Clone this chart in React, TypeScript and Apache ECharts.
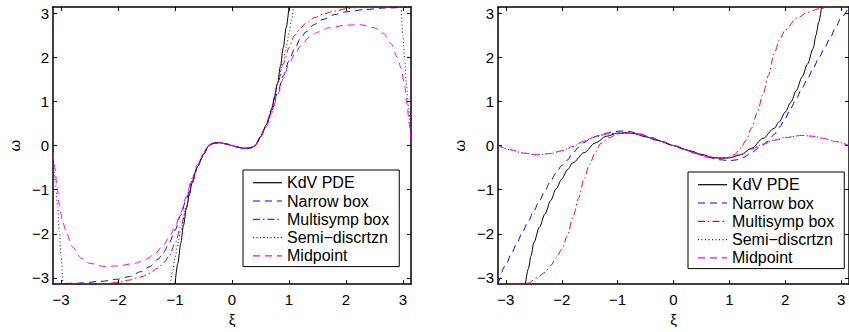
import React, { useEffect, useRef } from "react";
import * as echarts from "echarts";

const PI = Math.PI;
const tickValues = [-3, -2, -1, 0, 1, 2, 3];
const names = ["KdV PDE", "Narrow box", "Multisymp box", "Semi\u2212discrtzn", "Midpoint"];

// ---------- left panel ----------
const L_kdv_xi = [-1.0, -0.95, -0.9, -0.85, -0.8, -0.75, -0.7, -0.65, -0.6, -0.55, -0.5, -0.45, -0.4, -0.35, -0.28, -0.2, -0.1, 0, 0.1, 0.2, 0.28, 0.35, 0.4, 0.45, 0.5, 0.55, 0.6, 0.65, 0.7, 0.75, 0.8, 0.85, 0.9, 0.95, 1.0];
const L_kdv_w = [-3.14, -2.67, -2.22, -1.8, -1.42, -1.12, -0.85, -0.62, -0.47, -0.33, -0.2, -0.07, 0.01, 0.05, 0.067, 0.062, 0.035, 0, -0.035, -0.062, -0.067, -0.05, -0.01, 0.07, 0.2, 0.33, 0.47, 0.62, 0.85, 1.12, 1.42, 1.8, 2.22, 2.67, 3.14];

const L_nar_xi = [-3.14, -2.7, -2.3, -2.0, -1.8, -1.6, -1.45, -1.3, -1.2, -1.1, -1.0, -0.9, -0.8, -0.7, -0.6, -0.5, -0.4, -0.3, -0.2, -0.1, 0, 0.1, 0.2, 0.3, 0.4, 0.5, 0.6, 0.7, 0.8, 0.9, 1.0, 1.1, 1.2, 1.3, 1.45, 1.6, 1.8, 2.0, 2.3, 2.7, 3.14];
const L_nar_w = [-3.14, -3.12, -3.08, -3.03, -2.97, -2.86, -2.75, -2.58, -2.42, -2.2, -1.92, -1.58, -1.2, -0.8, -0.45, -0.2, 0.01, 0.055, 0.062, 0.035, 0, -0.035, -0.062, -0.055, -0.01, 0.2, 0.45, 0.8, 1.2, 1.58, 1.92, 2.2, 2.42, 2.58, 2.75, 2.86, 2.97, 3.03, 3.08, 3.12, 3.14];

const L_msb_xi = [-3.14, -2.5, -2.2, -2.0, -1.8, -1.6, -1.45, -1.3, -1.2, -1.1, -1.0, -0.9, -0.8, -0.7, -0.6, -0.5, -0.4, -0.3, -0.2, -0.1, 0, 0.1, 0.2, 0.3, 0.4, 0.5, 0.6, 0.7, 0.8, 0.9, 1.0, 1.1, 1.2, 1.3, 1.45, 1.6, 1.8, 2.0, 2.2, 2.5, 3.14];
const L_msb_w = [-3.14, -3.14, -3.13, -3.1, -3.05, -2.98, -2.9, -2.78, -2.66, -2.5, -2.22, -1.85, -1.4, -0.85, -0.47, -0.2, 0.01, 0.055, 0.062, 0.035, 0, -0.035, -0.062, -0.055, -0.01, 0.2, 0.47, 0.85, 1.4, 1.85, 2.22, 2.5, 2.66, 2.78, 2.9, 2.98, 3.05, 3.1, 3.13, 3.14, 3.14];

const L_semi1_xi = [-3.14, -3.1, -3.06, -3.03, -3.0, -2.97];
const L_semi1_w = [-0.12, -0.85, -1.4, -1.95, -2.5, -3.14];
const L_semi2_xi = [-1.08, -1.05, -1.0, -0.95, -0.9, -0.8, -0.7, -0.6, -0.5, -0.4, -0.3, -0.2, -0.1, 0, 0.1, 0.2, 0.3, 0.4, 0.5, 0.6, 0.7, 0.8, 0.9, 0.95, 1.0, 1.05, 1.08];
const L_semi2_w = [-3.14, -2.88, -2.55, -2.22, -1.92, -1.38, -0.85, -0.47, -0.2, 0.01, 0.055, 0.062, 0.035, 0, -0.035, -0.062, -0.055, -0.01, 0.2, 0.47, 0.85, 1.38, 1.92, 2.22, 2.55, 2.88, 3.14];
const L_semi3_xi = [2.97, 3.0, 3.03, 3.06, 3.1, 3.14];
const L_semi3_w = [3.14, 2.5, 1.95, 1.4, 0.85, 0.12];

const L_mid_xi = [-3.14, -3.11, -3.07, -3.03, -2.97, -2.9, -2.8, -2.65, -2.5, -2.25, -2.0, -1.7, -1.5, -1.35, -1.2, -1.1, -1.0, -0.9, -0.8, -0.7, -0.6, -0.5, -0.4, -0.3, -0.2, -0.1, 0, 0.1, 0.2, 0.3, 0.4, 0.5, 0.6, 0.7, 0.8, 0.9, 1.0, 1.1, 1.2, 1.35, 1.5, 1.7, 2.0, 2.25, 2.5, 2.65, 2.8, 2.9, 2.97, 3.03, 3.07, 3.11, 3.14];
const L_mid_w = [-0.15, -0.5, -0.95, -1.35, -1.75, -2.0, -2.3, -2.55, -2.67, -2.74, -2.73, -2.67, -2.57, -2.45, -2.25, -2.07, -1.85, -1.52, -1.15, -0.74, -0.42, -0.18, 0.01, 0.055, 0.062, 0.035, 0, -0.035, -0.062, -0.055, -0.01, 0.18, 0.42, 0.74, 1.15, 1.52, 1.85, 2.07, 2.25, 2.45, 2.57, 2.67, 2.73, 2.74, 2.67, 2.55, 2.3, 2.0, 1.75, 1.35, 0.95, 0.5, 0.15];

// ---------- right panel ----------
const R_kdv_xi = [-2.65, -2.6, -2.55, -2.5, -2.4, -2.3, -2.2, -2.1, -2.0, -1.9, -1.8, -1.6, -1.4, -1.2, -1.0, -0.85, -0.7, -0.5, -0.3, 0, 0.3, 0.5, 0.7, 0.85, 1.0, 1.2, 1.4, 1.6, 1.8, 1.9, 2.0, 2.1, 2.2, 2.3, 2.4, 2.5, 2.55, 2.6, 2.65];
const R_kdv_w = [-3.14, -2.8, -2.5, -2.2, -1.85, -1.55, -1.25, -0.98, -0.76, -0.55, -0.39, -0.16, 0.06, 0.21, 0.28, 0.29, 0.27, 0.2, 0.12, 0, -0.12, -0.2, -0.27, -0.29, -0.28, -0.21, -0.06, 0.16, 0.39, 0.55, 0.76, 0.98, 1.25, 1.55, 1.85, 2.2, 2.5, 2.8, 3.14];

const R_nar_xi = [-3.14, -3.0, -2.9, -2.8, -2.7, -2.6, -2.5, -2.4, -2.3, -2.2, -2.1, -2.0, -1.9, -1.8, -1.7, -1.6, -1.5, -1.35, -1.2, -1.05, -0.93, -0.8, -0.6, -0.4, -0.2, 0, 0.2, 0.4, 0.6, 0.8, 1.0, 1.1, 1.25, 1.4, 1.55, 1.7, 1.8, 1.9, 2.0, 2.1, 2.2, 2.3, 2.4, 2.5, 2.6, 2.7, 2.8, 2.9, 3.0, 3.14];
const R_nar_w = [-3.14, -2.7, -2.45, -2.2, -1.95, -1.72, -1.48, -1.25, -1.02, -0.8, -0.62, -0.45, -0.33, -0.17, -0.04, 0.07, 0.15, 0.22, 0.28, 0.32, 0.33, 0.32, 0.26, 0.18, 0.09, 0, -0.09, -0.18, -0.26, -0.32, -0.34, -0.33, -0.27, -0.16, -0.03, 0.1, 0.25, 0.42, 0.62, 0.85, 1.07, 1.3, 1.52, 1.75, 1.98, 2.2, 2.43, 2.67, 2.9, 3.14];

const R_msb_xi = [-3.14, -2.8, -2.6, -2.45, -2.3, -2.2, -2.1, -2.0, -1.9, -1.8, -1.7, -1.6, -1.5, -1.4, -1.3, -1.15, -1.0, -0.85, -0.6, -0.4, -0.2, 0, 0.2, 0.4, 0.6, 0.85, 1.0, 1.1, 1.2, 1.3, 1.4, 1.5, 1.6, 1.7, 1.8, 1.9, 2.0, 2.2, 2.4, 2.6, 2.8, 3.14];
const R_msb_w = [-3.14, -3.14, -3.12, -3.0, -2.88, -2.72, -2.55, -2.35, -2.05, -1.62, -1.2, -0.75, -0.42, -0.15, 0.05, 0.18, 0.26, 0.29, 0.26, 0.18, 0.09, 0, -0.09, -0.18, -0.26, -0.29, -0.26, -0.2, -0.06, 0.12, 0.4, 0.75, 1.15, 1.59, 2.08, 2.4, 2.62, 2.88, 3.02, 3.1, 3.14, 3.14];

const R_semi_xi = [-3.14, -2.9, -2.7, -2.45, -2.2, -2.0, -1.8, -1.6, -1.4, -1.2, -1.0, -0.8, -0.6, -0.4, -0.2, 0, 0.2, 0.4, 0.6, 0.8, 1.0, 1.2, 1.4, 1.6, 1.8, 2.0, 2.3, 2.5, 2.7, 2.9, 3.14];
const R_semi_w = [0, -0.1, -0.17, -0.21, -0.18, -0.12, -0.02, 0.1, 0.2, 0.26, 0.28, 0.28, 0.25, 0.18, 0.09, 0, -0.09, -0.18, -0.25, -0.28, -0.27, -0.2, -0.08, 0.03, 0.12, 0.18, 0.23, 0.21, 0.16, 0.09, 0];

const R_mid_xi = [-3.14, -2.9, -2.7, -2.45, -2.2, -2.0, -1.8, -1.6, -1.4, -1.2, -1.0, -0.8, -0.6, -0.4, -0.2, 0, 0.2, 0.4, 0.6, 0.8, 1.0, 1.2, 1.4, 1.6, 1.8, 2.0, 2.3, 2.5, 2.7, 2.9, 3.14];
const R_mid_w = [0, -0.1, -0.17, -0.21, -0.18, -0.12, -0.02, 0.1, 0.2, 0.26, 0.28, 0.28, 0.25, 0.18, 0.09, 0, -0.09, -0.18, -0.25, -0.28, -0.27, -0.2, -0.08, 0.03, 0.12, 0.18, 0.23, 0.21, 0.16, 0.09, 0];

const FONT = "'Liberation Sans', Arial, Helvetica, sans-serif";

const styles: Record<string, any> = {
  "KdV PDE": { color: "#000000", type: "solid" },
  "Narrow box": { color: "#0000ff", type: [7, 5] },
  "Multisymp box": { color: "#ff0000", type: [7, 3, 1.5, 3] },
  "Semi\u2212discrtzn": { color: "#0000ff", type: [1, 2.5] },
  Midpoint: { color: "#ff00ff", type: [7, 5] },
};

const pairs = (xs: number[], ys: number[]) => xs.map((x, i) => [x, ys[i]]);

function mkSeries(name: string, xs: number[], ys: number[], panel: number) {
  const st = styles[name];
  return {
    type: "line",
    name,
    xAxisIndex: panel * 2,
    yAxisIndex: panel * 2,
    data: pairs(xs, ys),
    symbol: "none",
    smooth: 0.3,
    smoothMonotone: "x",
    clip: true,
    color: st.color,
    itemStyle: { color: st.color },
    lineStyle: { color: st.color, width: 1, type: st.type },
    emphasis: { disabled: true },
    silent: true,
    z: 2,
  };
}

const fmt = (v: number) => (v < 0 ? "\u2212" + Math.abs(v) : String(v));

function xAxes(grid: number) {
  const common = {
    type: "value",
    gridIndex: grid,
    min: -PI,
    max: PI,
    splitLine: { show: false },
    axisLine: { show: true, onZero: false, lineStyle: { color: "#000", width: 1.5 } },
    axisTick: { show: true, inside: true, length: 4, customValues: tickValues, lineStyle: { color: "#000", width: 1 } },
  };
  return [
    {
      ...common,
      position: "bottom",
      axisLabel: { show: true, customValues: tickValues, formatter: fmt, fontSize: 15, fontFamily: FONT, color: "#000", margin: 8 },
      name: "\u03be",
      nameLocation: "middle",
      nameGap: 26,
      nameTextStyle: { fontSize: 15, fontFamily: FONT, color: "#000" },
    },
    { ...common, position: "top", axisLabel: { show: false } },
  ];
}

function yAxes(grid: number) {
  const common = {
    type: "value",
    gridIndex: grid,
    min: -PI,
    max: PI,
    splitLine: { show: false },
    axisLine: { show: true, onZero: false, lineStyle: { color: "#000", width: 1.5 } },
    axisTick: { show: true, inside: true, length: 4, customValues: tickValues, lineStyle: { color: "#000", width: 1 } },
  };
  return [
    {
      ...common,
      position: "left",
      axisLabel: { show: true, customValues: tickValues, formatter: fmt, fontSize: 15, fontFamily: FONT, color: "#000", margin: 4 },
      name: "\u03c9",
      nameLocation: "middle",
      nameRotate: 90,
      nameGap: 31,
      nameTextStyle: { fontSize: 15, fontFamily: FONT, color: "#000" },
    },
    { ...common, position: "right", axisLabel: { show: false } },
  ];
}

function legend(left: number, top: number) {
  return {
    orient: "vertical",
    left,
    top,
    data: names,
    itemWidth: 29,
    itemHeight: 14,
    itemGap: 2.3,
    padding: [4.7, 10, 2.7, 9.4],
    backgroundColor: "#ffffff",
    borderColor: "#000000",
    borderWidth: 1,
    borderRadius: 0,
    selectedMode: false,
    itemStyle: { opacity: 0, borderWidth: 0 },
    lineStyle: { width: 1.2 },
    textStyle: { fontSize: 16, lineHeight: 16, fontFamily: FONT, color: "#000" },
  };
}

export default function App() {
  const ref = useRef<HTMLDivElement>(null);
  useEffect(() => {
    document.body.style.margin = "0";
    if (!ref.current) return;
    const chart = echarts.init(ref.current, null, { renderer: "svg" });
    chart.setOption({
      animation: false,
      backgroundColor: "#ffffff",
      grid: [
        { left: 53, top: 7, width: 358, height: 281 },
        { left: 498, top: 7, width: 358, height: 281 },
      ],
      xAxis: [...xAxes(0), ...xAxes(1)],
      yAxis: [...yAxes(0), ...yAxes(1)],
      legend: [legend(243, 170), legend(688, 172)],
      series: [
        mkSeries("KdV PDE", L_kdv_xi, L_kdv_w, 0),
        mkSeries("Narrow box", L_nar_xi, L_nar_w, 0),
        mkSeries("Multisymp box", L_msb_xi, L_msb_w, 0),
        mkSeries("Semi\u2212discrtzn", L_semi1_xi, L_semi1_w, 0),
        mkSeries("Semi\u2212discrtzn", L_semi2_xi, L_semi2_w, 0),
        mkSeries("Semi\u2212discrtzn", L_semi3_xi, L_semi3_w, 0),
        mkSeries("Midpoint", L_mid_xi, L_mid_w, 0),
        mkSeries("KdV PDE", R_kdv_xi, R_kdv_w, 1),
        mkSeries("Narrow box", R_nar_xi, R_nar_w, 1),
        mkSeries("Multisymp box", R_msb_xi, R_msb_w, 1),
        mkSeries("Semi\u2212discrtzn", R_semi_xi, R_semi_w, 1),
        mkSeries("Midpoint", R_mid_xi, R_mid_w, 1),
      ],
    });
    return () => chart.dispose();
  }, []);
  return <div ref={ref} style={{ position: "absolute", left: 0, top: 0, width: 849, height: 332 }} />;
}
